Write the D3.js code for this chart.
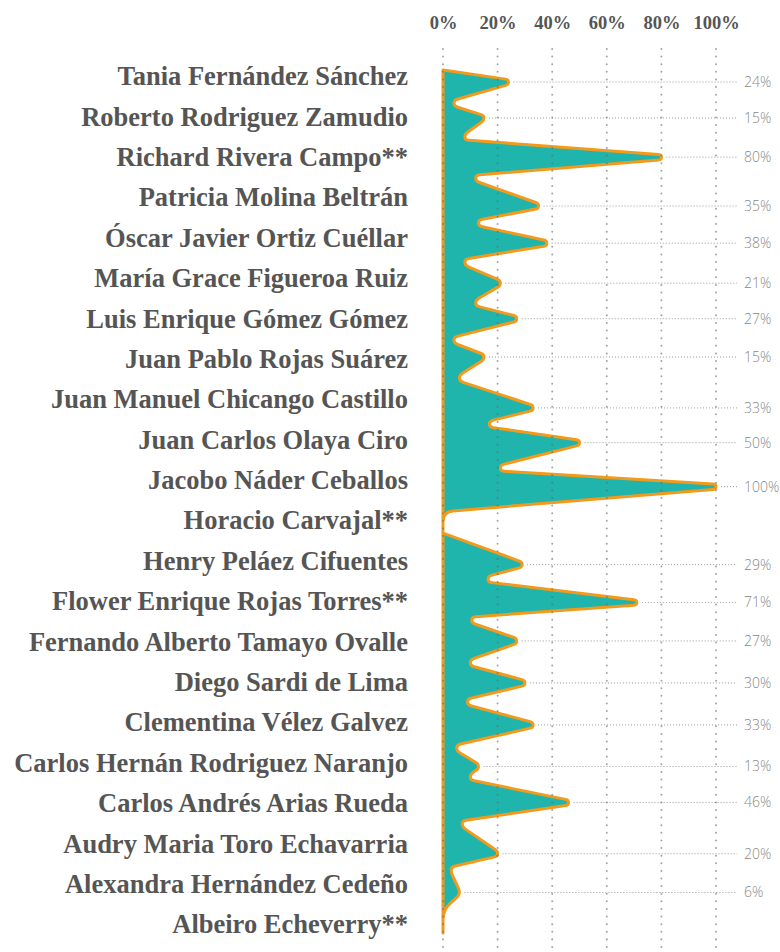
<!DOCTYPE html>
<html><head><meta charset="utf-8">
<script src="https://cdn.jsdelivr.net/npm/d3@7/dist/d3.min.js"></script>
<style>body{margin:0;background:#fff}</style>
</head><body><svg id="chart" width="780" height="952"></svg>
<script>
// ---- data ----
const names = ["Tania Fernández Sánchez","Roberto Rodriguez Zamudio","Richard Rivera Campo**",
  "Patricia Molina Beltrán","Óscar Javier Ortiz Cuéllar","María Grace Figueroa Ruiz",
  "Luis Enrique Gómez Gómez","Juan Pablo Rojas Suárez","Juan Manuel Chicango Castillo",
  "Juan Carlos Olaya Ciro","Jacobo Náder Ceballos","Horacio Carvajal**","Henry Peláez Cifuentes",
  "Flower Enrique Rojas Torres**","Fernando Alberto Tamayo Ovalle","Diego Sardi de Lima",
  "Clementina Vélez Galvez","Carlos Hernán Rodriguez Naranjo","Carlos Andrés Arias Rueda",
  "Audry Maria Toro Echavarria","Alexandra Hernández Cedeño","Albeiro Echeverry**"];
const values = [24,15,80,35,38,21,27,15,33,50,100,0,29,71,27,30,33,13,46,20,6,0];
// where each peak sits along the row axis (row units)
const peakAt = [0.15,1.04,2.01,3.22,4.14,5.13,6.01,6.96,8.22,9.08,10.17,11,12.10,13.04,13.99,15.03,16.07,17.10,17.99,19.26,20.22,21];
// troughs between consecutive rows (null where none)
const valleyValues = [4,8,12,13,8,12,4,6,17,21,null,null,16.5,10.5,10,9,5,10,7,3,null];
const valleyAt = [0.67,1.51,2.53,3.64,4.61,5.62,6.54,7.48,8.62,9.71,null,null,12.46,13.47,14.53,15.50,16.64,17.36,18.52,19.66,null];
// zero-value runs (row units), in order of zero rows
const zeroFrom = [10.79, 20.65];
const zeroTo = [11.32, 21.22];
const topAt = -0.15;
const tickValues = [0, 20, 40, 60, 80, 100];

// ---- scales ----
const svg = d3.select("#chart");
const x = d3.scaleLinear().domain([0, 100]).range([443, 716]);
const y = d3.scaleLinear().domain([0, 21]).range([76, 924]);

// ---- build outline points ----
const pts = [{x: x(0), y: y(topAt), r: 0}];
let zi = 0;
values.forEach((v, i) => {
  if (v > 0) {
    pts.push({x: x(v), y: y(peakAt[i]) - 2.5, r: 3});
    pts.push({x: x(v), y: y(peakAt[i]) + 2.5, r: 3});
  } else {
    pts.push({x: x(0), y: y(zeroFrom[zi]), r: 10});
    pts.push({x: x(0), y: y(zeroTo[zi]), r: 0});
    zi++;
  }
  if (i < valleyValues.length && valleyValues[i] != null) {
    pts.push({x: x(valleyValues[i]), y: y(valleyAt[i]) - 3, r: 4});
    pts.push({x: x(valleyValues[i]), y: y(valleyAt[i]) + 3, r: 4});
  }
});

function roundedPath(p) {
  const path = d3.path();
  path.moveTo(p[0].x, p[0].y);
  for (let i = 1; i < p.length - 1; i++) {
    const A = p[i-1], P = p[i], B = p[i+1];
    if (!P.r) { path.lineTo(P.x, P.y); continue; }
    const la = Math.hypot(P.x - A.x, P.y - A.y), lb = Math.hypot(B.x - P.x, B.y - P.y);
    const d1 = Math.min(P.r, la / 2), d2 = Math.min(P.r, lb / 2);
    const p1 = {x: P.x - (P.x - A.x) / la * d1, y: P.y - (P.y - A.y) / la * d1};
    const p2 = {x: P.x + (B.x - P.x) / lb * d2, y: P.y + (B.y - P.y) / lb * d2};
    path.lineTo(p1.x, p1.y);
    path.quadraticCurveTo(P.x, P.y, p2.x, p2.y);
  }
  const L = p[p.length - 1];
  path.lineTo(L.x, L.y);
  path.closePath();
  return path.toString();
}

// leader lines + value labels
values.forEach((v, i) => {
  if (v <= 0) return;
  svg.append("line")
    .attr("x1", x(v) + 5).attr("x2", 737)
    .attr("y1", y(peakAt[i])).attr("y2", y(peakAt[i]))
    .attr("stroke", "#999").attr("stroke-width", 1).attr("stroke-dasharray", "1,2");
  svg.append("text")
    .attr("x", 744).attr("y", y(peakAt[i])).attr("dy", "0.35em")
    .attr("font-family", "'Open Sans', 'Noto Sans', sans-serif").attr("font-weight", 300)
    .attr("font-size", 14).attr("fill", "#888")
    .text(v + "%");
});

// shape
svg.append("path")
  .attr("d", roundedPath(pts))
  .attr("fill", "#1fb5ad")
  .attr("stroke", "#f29a1d")
  .attr("stroke-width", 3)
  .attr("stroke-linejoin", "round")
  .attr("stroke-linecap", "round");

// vertical dotted gridlines on top
svg.append("g").selectAll("line").data(tickValues).join("line")
  .attr("x1", d => x(d)).attr("x2", d => x(d))
  .attr("y1", 49).attr("y2", 952)
  .attr("stroke", "#666").attr("stroke-opacity", 0.6)
  .attr("stroke-width", 2).attr("stroke-linecap", "round")
  .attr("stroke-dasharray", "0.01,7.6");

// top axis
const axis = svg.append("g").attr("transform", "translate(0,29)")
  .call(d3.axisTop(x).tickValues(tickValues).tickSize(0).tickPadding(0).tickFormat(d => d + "%"));
axis.select(".domain").remove();
axis.selectAll("text")
  .attr("font-family", "'Liberation Serif', 'Times New Roman', serif")
  .attr("font-weight", "bold").attr("font-size", 18.5).attr("fill", "#555").attr("dy", 0);

// names
svg.append("g").selectAll("text").data(names).join("text")
  .attr("x", 408).attr("y", (d, i) => y(i)).attr("dy", "0.35em")
  .attr("text-anchor", "end")
  .attr("font-family", "'Liberation Serif', 'Times New Roman', serif")
  .attr("font-weight", "bold").attr("font-size", 26.5).attr("fill", "#555")
  .text(d => d);
</script></body></html>
